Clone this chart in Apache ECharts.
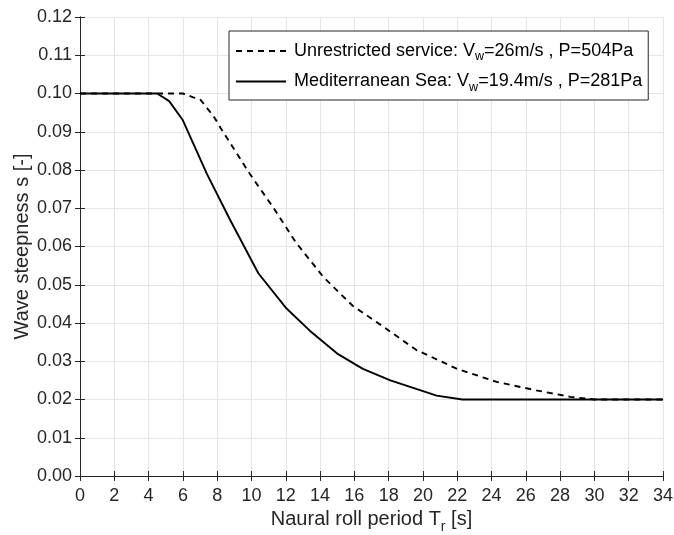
<!DOCTYPE html>
<html>
<head>
<meta charset="utf-8">
<script src="https://cdn.jsdelivr.net/npm/echarts@6/dist/echarts.min.js"></script>
<style>
  html, body { margin: 0; padding: 0; background: #fff; }
  #chart { width: 674px; height: 535px; }
</style>
</head>
<body>
<div id="chart"></div>
<script>
// roll period [s] and wave steepness
var unrestrictedT = [0, 6.0, 6.6, 7.0, 7.8, 8.2, 9.9, 11.3, 12.6, 14.2, 15.9, 17.7, 19.6, 22.0, 24.3, 26.6, 28.6, 30.0, 34];
var unrestrictedS = [0.100, 0.100, 0.099, 0.0985, 0.094, 0.091, 0.079, 0.070, 0.061, 0.052, 0.0445, 0.039, 0.033, 0.028, 0.0246, 0.0224, 0.0207, 0.020, 0.020];
var medT = [0, 4.5, 5.2, 6.0, 7.4, 8.75, 10.4, 12.0, 13.4, 15.0, 16.5, 18.1, 20.8, 22.3, 34];
var medS = [0.100, 0.100, 0.098, 0.093, 0.079, 0.067, 0.053, 0.044, 0.038, 0.032, 0.028, 0.025, 0.021, 0.020, 0.020];

var seriesNames = ['Unrestricted service', 'Mediterranean Sea'];
var legendText = {
  'Unrestricted service': '{a|Unrestricted service: V}{s|w}{a|=26m/s , P=504Pa}',
  'Mediterranean Sea': '{a|Mediterranean Sea: V}{s|w}{a|=19.4m/s , P=281Pa}'
};

function zip(xs, ys) {
  return xs.map(function (x, i) { return [x, ys[i]]; });
}

var font = '"Liberation Sans", Arial, Helvetica, sans-serif';
var axisColor = '#262626';
var gridColor = '#e5e5e5';

var chart = echarts.init(document.getElementById('chart'));

var option = {
  backgroundColor: '#fff',
  animation: false,
  textStyle: { fontFamily: font },
  grid: { left: 80, right: 11, top: 17, bottom: 59, outerBoundsMode: 'none', containLabel: false },
  legend: {
    data: seriesNames,
    orient: 'vertical',
    left: 229,
    top: 31,
    itemWidth: 50,
    itemHeight: 14,
    itemGap: 9,
    padding: [11, 6, 6, 6],
    borderColor: axisColor,
    borderWidth: 1,
    backgroundColor: '#fff',
    itemStyle: { color: 'rgba(0,0,0,0)', borderWidth: 0, opacity: 0 },
    formatter: function (name) { return legendText[name]; },
    textStyle: {
      padding: [0, 0, 0, 3],
      rich: {
        a: { fontSize: 18, color: '#000', fontFamily: font },
        s: { fontSize: 12.5, color: '#000', fontFamily: font, padding: [12, 0, 0, 0] }
      }
    }
  },
  xAxis: [{
    type: 'value',
    min: 0, max: 34, interval: 2,
    name: '{a|Naural roll period T}{s|r}{a| [s]}',
    nameLocation: 'middle',
    nameGap: 28,
    nameTextStyle: {
      rich: {
        a: { fontSize: 20, color: axisColor, fontFamily: font },
        s: { fontSize: 14, color: axisColor, fontFamily: font, padding: [14, 0, 0, 0] }
      }
    },
    axisLine: { show: true, lineStyle: { color: axisColor, width: 1 } },
    axisTick: { show: true, inside: true, length: 5, lineStyle: { color: axisColor } },
    axisLabel: { fontSize: 18, color: axisColor, margin: 11 },
    splitLine: { show: true, lineStyle: { color: gridColor, width: 1 } }
  }, {
    type: 'value', position: 'top',
    min: 0, max: 34, interval: 2,
    axisLine: { show: true, lineStyle: { color: axisColor, width: 1 } },
    axisTick: { show: true, inside: true, length: 5, lineStyle: { color: axisColor } },
    axisLabel: { show: false },
    splitLine: { show: false }
  }],
  yAxis: [{
    type: 'value',
    min: 0, max: 0.12, interval: 0.01,
    name: 'Wave steepness s [-]',
    nameLocation: 'middle',
    nameGap: 48,
    nameMoveOverlap: false,
    nameTextStyle: { fontSize: 20, color: axisColor, fontFamily: font },
    axisLine: { show: true, lineStyle: { color: axisColor, width: 1 } },
    axisTick: { show: true, inside: true, length: 5, lineStyle: { color: axisColor } },
    axisLabel: {
      fontSize: 18, color: axisColor, margin: 8,
      formatter: function (v) { return v.toFixed(2); }
    },
    splitLine: { show: true, lineStyle: { color: gridColor, width: 1 } }
  }, {
    type: 'value', position: 'right',
    min: 0, max: 0.12, interval: 0.01,
    axisLine: { show: true, lineStyle: { color: axisColor, width: 1 } },
    axisTick: { show: true, inside: true, length: 5, lineStyle: { color: axisColor } },
    axisLabel: { show: false },
    splitLine: { show: false }
  }],
  series: [{
    name: seriesNames[0],
    type: 'line',
    data: zip(unrestrictedT, unrestrictedS),
    showSymbol: false,
    symbol: 'none',
    lineStyle: { color: '#000', width: 1.9, type: [6, 5] },
    itemStyle: { color: '#000' },
    z: 3
  }, {
    name: seriesNames[1],
    type: 'line',
    data: zip(medT, medS),
    showSymbol: false,
    symbol: 'none',
    lineStyle: { color: '#000', width: 1.9, type: 'solid' },
    itemStyle: { color: '#000' },
    z: 4
  }]
};

chart.setOption(option);
</script>
</body>
</html>
